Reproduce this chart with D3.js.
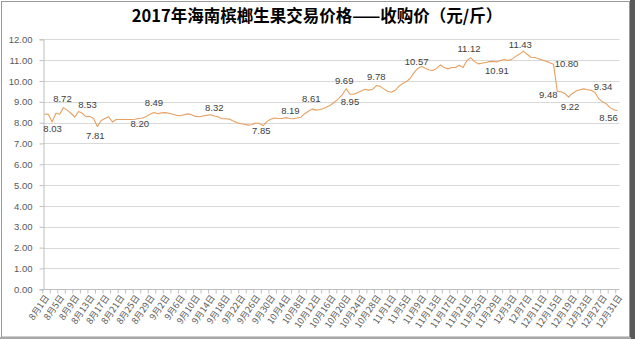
<!DOCTYPE html>
<html><head><meta charset="utf-8">
<script src="https://cdn.jsdelivr.net/npm/d3@7"></script>
<style>
html,body{margin:0;padding:0;background:#fff;}
svg{display:block;}
</style></head>
<body>
<script>
// ---- data ----
const title = "2017年海南槟榔生果交易价格——收购价（元/斤）";
const startDate = new Date(2017, 7, 1);
const endDate = new Date(2018, 0, 1);
const dates = d3.timeDay.range(startDate, endDate); // 8月1日 .. 12月31日
const prices = [
  8.41, 8.40, 8.03, 8.45, 8.40, 8.72, 8.60, 8.45, 8.27, 8.53,
  8.45, 8.28, 8.30, 8.20, 7.81, 8.10, 8.20, 8.28, 8.03, 8.15,
  8.15, 8.15, 8.15, 8.15, 8.16, 8.20, 8.22, 8.30, 8.40, 8.49,
  8.43, 8.47, 8.48, 8.45, 8.40, 8.35, 8.33, 8.38, 8.42, 8.38,
  8.30, 8.28, 8.32, 8.35, 8.38, 8.32, 8.28, 8.19, 8.19, 8.17,
  8.08, 8.01, 7.95, 7.92, 7.88, 7.90, 7.98, 7.96, 7.85, 8.06,
  8.16, 8.22, 8.20, 8.20, 8.24, 8.20, 8.19, 8.22, 8.26, 8.43,
  8.55, 8.66, 8.60, 8.63, 8.68, 8.76, 8.86, 9.00, 9.15, 9.35,
  9.63, 9.36, 9.36, 9.44, 9.52, 9.60, 9.56, 9.60, 9.78, 9.74,
  9.62, 9.51, 9.46, 9.55, 9.75, 9.88, 9.97, 10.13, 10.40, 10.60,
  10.70, 10.61, 10.53, 10.50, 10.60, 10.77, 10.65, 10.58, 10.65, 10.65,
  10.75, 10.65, 10.97, 11.12, 10.94, 10.82, 10.85, 10.89, 10.93, 10.94,
  10.91, 10.99, 11.03, 10.98, 11.05, 11.18, 11.29, 11.43, 11.28, 11.14,
  11.13, 11.07, 11.00, 10.95, 10.88, 10.80, 9.50, 9.48, 9.40, 9.22,
  9.40, 9.52, 9.58, 9.62, 9.58, 9.55, 9.45, 9.15, 9.00, 8.90,
  8.72, 8.62, 8.57
];
const yTicks = [0,1,2,3,4,5,6,7,8,9,10,11,12];
// annotated points: category index and label text
const labelIndex = [2, 5, 9, 14, 25, 29, 45, 58, 66, 71, 80, 81, 88, 100, 113, 120, 127, 135, 136, 139, 146, 152];
const labelText  = ["8.03","8.72","8.53","7.81","8.20","8.49","8.32","7.85","8.19","8.61","9.69","8.95","9.78","10.57","11.12","10.91","11.43","10.80","9.48","9.22","9.34","8.56"];

// ---- layout (positions/styles) ----
const W = 636, H = 339;
const plot = {left: 42.7, right: 619.5, top: 39.3, bottom: 289.3};
const labelOffsets = [
  [0.5,7.3],[-1,-8.4],[9,-6.6],[-2,10],[1,6.5],[0,-9],[0,-7],[-2,6],[-3,-7],[-1,-9],
  [-2,-7],[0,8.4],[0,-8],[-5,-4],[-1.6,-7.7],[0,9.7],[-3,-6],[13,0],[-9,4],[1.5,10],
  [8,-5],[-9,7.5]
];

const svg = d3.select("body").append("svg").attr("width", W).attr("height", H);

// frame
svg.append("rect").attr("x",0).attr("y",0).attr("width",W).attr("height",H).attr("fill","#fff");
svg.append("rect").attr("x",1.5).attr("y",1.5).attr("width",628).attr("height",335.5)
  .attr("fill","none").attr("stroke","#9a9a9a").attr("stroke-width",1);
svg.append("rect").attr("x",630).attr("y",0).attr("width",5).attr("height",H).attr("fill","#5a5a5a");
svg.append("rect").attr("x",0).attr("y",337).attr("width",631).attr("height",2).attr("fill","#a8a8a8");

const x = d3.scaleBand().domain(d3.range(dates.length)).range([plot.left, plot.right]).padding(0);
const cx = i => x(i) + x.bandwidth()/2;
const y = d3.scaleLinear().domain([0, 12]).range([plot.bottom, plot.top]);

// gridlines
svg.append("g").selectAll("line").data(yTicks.filter(d => d > 0)).join("line")
  .attr("x1", plot.left).attr("x2", plot.right)
  .attr("y1", d => Math.round(y(d)) + 0.5).attr("y2", d => Math.round(y(d)) + 0.5)
  .attr("stroke", "#d9d9d9").attr("stroke-width", 1);

// y axis
const yAxis = svg.append("g").attr("transform", `translate(${Math.round(plot.left)+0.5},0)`)
  .call(d3.axisLeft(y).tickValues(yTicks).tickFormat(d3.format(".2f")).tickSize(4).tickPadding(7));
yAxis.select(".domain").attr("stroke", "#bfbfbf");
yAxis.selectAll(".tick line").attr("stroke", "#bfbfbf");
yAxis.selectAll(".tick text").attr("fill", "#595959")
  .style("font-family", "'Liberation Sans', Arial, sans-serif").style("font-size", "9.5px");

// x axis line
svg.append("line").attr("x1", plot.left).attr("x2", plot.right)
  .attr("y1", Math.round(plot.bottom)+0.5).attr("y2", Math.round(plot.bottom)+0.5)
  .attr("stroke", "#bfbfbf");
// x tick marks every 2 categories at category boundaries
const tickIdx = d3.range(0, dates.length + 1, 2);
svg.append("g").selectAll("line").data(tickIdx).join("line")
  .attr("x1", k => (k < dates.length ? x(k) : plot.right))
  .attr("x2", k => (k < dates.length ? x(k) : plot.right))
  .attr("y1", Math.round(plot.bottom)+0.5).attr("y2", Math.round(plot.bottom)+4.5)
  .attr("stroke", "#bfbfbf");
// x labels every 4 categories
const fmt = d => `${d.getMonth()+1}月${d.getDate()}日`;
const labIdx = d3.range(0, dates.length, 4);
svg.append("g").selectAll("text").data(labIdx).join("text")
  .attr("transform", i => `translate(${cx(i)+3},${plot.bottom+7}) rotate(-55)`)
  .attr("text-anchor", "end").attr("dominant-baseline", "middle")
  .attr("fill", "#595959")
  .style("font-family", "'Noto Sans CJK SC', sans-serif").style("font-size", "9px")
  .text(i => fmt(dates[i]));

// line
const line = d3.line().x((d, i) => cx(i)).y(d => y(d));
svg.append("path").datum(prices).attr("d", line)
  .attr("fill", "none").attr("stroke", "#E8A060").attr("stroke-width", 1.1)
  .attr("stroke-linejoin", "round");

// data labels
svg.append("g").selectAll("text").data(labelIndex).join("text")
  .attr("x", (idx, k) => cx(idx) + labelOffsets[k][0])
  .attr("y", (idx, k) => y(prices[idx]) + labelOffsets[k][1])
  .attr("text-anchor", "middle").attr("dominant-baseline", "middle")
  .attr("fill", "#404040")
  .style("font-family", "'Liberation Sans', Arial, sans-serif").style("font-size", "9.5px")
  .text((idx, k) => labelText[k]);

// title
svg.append("text").attr("x", 317).attr("y", 18).attr("text-anchor", "middle")
  .attr("dominant-baseline", "middle")
  .attr("fill", "#000").style("font-weight", "bold")
  .style("font-family", "'Noto Sans CJK SC', sans-serif").style("font-size", "16.5px")
  .text(title);
</script>
</body></html>
